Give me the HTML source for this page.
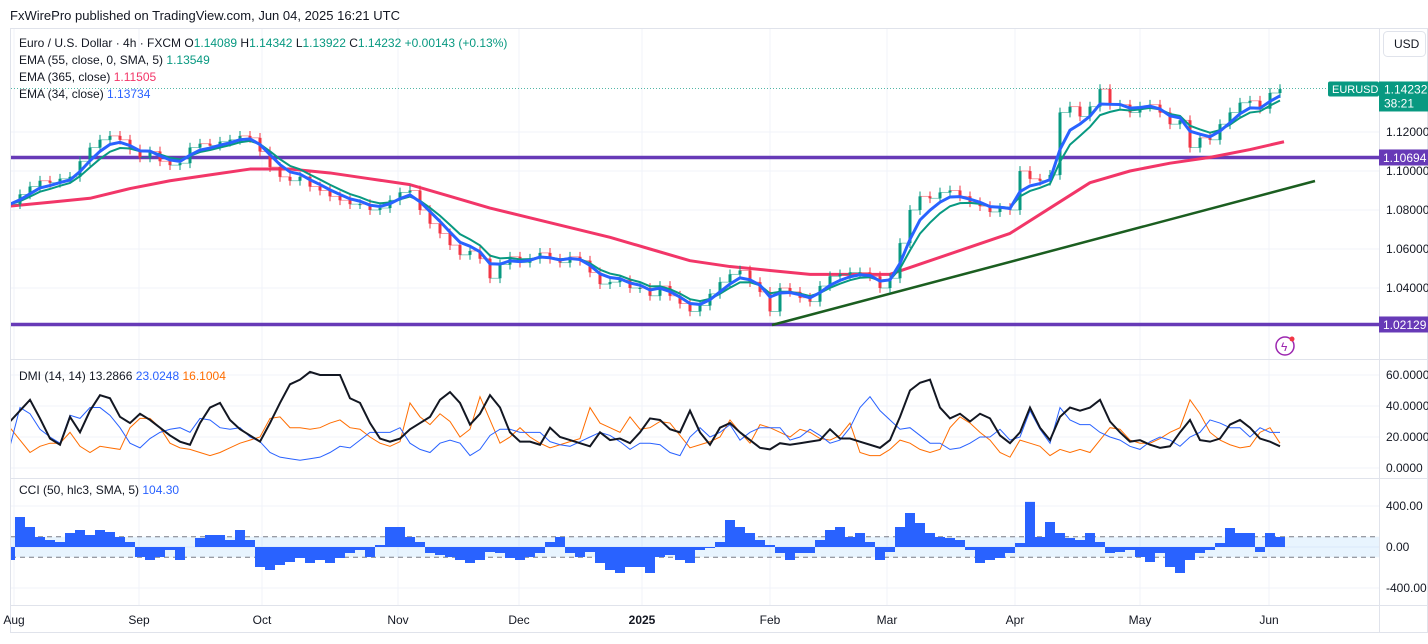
<!DOCTYPE html>
<html><head><meta charset="utf-8">
<style>
html,body{margin:0;padding:0;background:#fff;}
body{width:1428px;height:639px;overflow:hidden;font-family:"Liberation Sans",sans-serif;}
svg text{font-family:"Liberation Sans",sans-serif;}
</style></head>
<body>
<svg id="chart" width="1428" height="639" viewBox="0 0 1428 639" xmlns="http://www.w3.org/2000/svg">
<defs><clipPath id="plotclip"><rect x="11" y="29" width="1368" height="576"/></clipPath></defs>
<text x="10" y="20" font-size="13" fill="#131722">FxWirePro published on TradingView.com, Jun 04, 2025 16:21 UTC</text>
<rect x="10.5" y="28.5" width="1417" height="604" fill="none" stroke="#e0e3eb"/>
<g id="grid"></g>
<g id="main" clip-path="url(#plotclip)"></g>
<g id="dmi" clip-path="url(#plotclip)"></g>
<g id="cci" clip-path="url(#plotclip)"></g>
<g id="axes"></g>
<g font-size="12">
<text x="19" y="47" fill="#131722">Euro / U.S. Dollar · 4h · FXCM  O<tspan fill="#089981">1.14089</tspan>  H<tspan fill="#089981">1.14342</tspan>  L<tspan fill="#089981">1.13922</tspan>  C<tspan fill="#089981">1.14232</tspan>  <tspan fill="#089981">+0.00143 (+0.13%)</tspan></text>
<text x="19" y="64" fill="#131722">EMA (55, close, 0, SMA, 5)  <tspan fill="#089981">1.13549</tspan></text>
<text x="19" y="81" fill="#131722">EMA (365, close)  <tspan fill="#f23668">1.11505</tspan></text>
<text x="19" y="98" fill="#131722">EMA (34, close)  <tspan fill="#2962ff">1.13734</tspan></text>
<text x="19" y="380" fill="#131722">DMI (14, 14)  <tspan fill="#131722">13.2866</tspan>  <tspan fill="#2962ff">23.0248</tspan>  <tspan fill="#ff6d00">16.1004</tspan></text>
<text x="19" y="494" fill="#131722">CCI (50, hlc3, SMA, 5)  <tspan fill="#2962ff">104.30</tspan></text>
</g>
<rect x="1383.5" y="31.5" width="42" height="25" rx="4" fill="#fff" stroke="#e0e3eb"/>
<text x="1394" y="48" font-size="12" fill="#131722">USD</text>
<g><circle cx="1285" cy="346" r="9" fill="none" stroke="#9c27b0" stroke-width="1.5"/><text x="1281" y="351" font-size="12" fill="#9c27b0">ϟ</text><circle cx="1292" cy="339" r="2.5" fill="#f23645"/></g>
</svg>
<script>
const closes=[1.083,1.088,1.092,1.095,1.094,1.096,1.097,1.105,1.112,1.116,1.118,1.116,1.111,1.107,1.110,1.105,1.103,1.104,1.112,1.114,1.113,1.115,1.116,1.118,1.117,1.110,1.102,1.097,1.095,1.097,1.092,1.090,1.087,1.085,1.083,1.083,1.080,1.081,1.085,1.089,1.090,1.080,1.073,1.068,1.062,1.057,1.059,1.055,1.045,1.052,1.056,1.053,1.055,1.058,1.055,1.053,1.056,1.054,1.048,1.042,1.043,1.044,1.040,1.040,1.036,1.041,1.036,1.032,1.028,1.031,1.037,1.043,1.047,1.049,1.043,1.038,1.028,1.040,1.038,1.035,1.033,1.041,1.046,1.047,1.048,1.048,1.046,1.040,1.045,1.063,1.080,1.087,1.086,1.089,1.090,1.087,1.084,1.082,1.079,1.081,1.080,1.100,1.096,1.095,1.098,1.130,1.133,1.128,1.133,1.142,1.134,1.134,1.130,1.133,1.134,1.130,1.124,1.126,1.112,1.117,1.116,1.124,1.130,1.135,1.136,1.132,1.140,1.142];
const ema365=[1.082,1.084,1.086,1.091,1.095,1.098,1.101,1.101,1.099,1.096,1.093,1.087,1.081,1.076,1.071,1.066,1.060,1.054,1.051,1.049,1.047,1.047,1.047,1.054,1.061,1.068,1.081,1.094,1.100,1.104,1.107,1.111,1.115];
const adx=[30,37,44,32,19,15,33,23,37,47,45,33,29,35,31,26,21,17,15,29,39,42,31,25,21,17,29,42,54,57,62,60,60,60,45,42,29,19,17,19,25,29,33,44,49,42,28,35,47,39,23,17,17,15,26,20,18,16,14,23,18,19,16,23,32,31,25,23,37,23,15,26,29,23,18,13,12,16,15,16,17,18,25,19,19,17,15,13,18,33,50,55,57,39,32,35,30,35,32,21,16,23,39,26,18,33,39,37,39,44,30,23,17,18,15,13,14,23,31,18,17,19,28,31,26,19,17,14];
const plusDI=[14,39,35,25,20,16,34,32,39,39,34,26,16,13,19,23,25,26,23,32,31,26,25,26,20,17,10,7,6,5,6,7,10,14,13,18,23,23,23,26,16,12,10,16,18,16,8,12,21,25,25,23,23,23,17,15,14,17,20,23,21,17,12,16,16,15,10,8,20,26,20,23,28,18,23,26,26,26,18,20,25,21,16,18,26,39,46,37,31,25,26,21,16,16,12,13,16,20,20,25,18,20,37,25,16,39,31,28,28,23,20,18,14,12,17,20,18,14,20,23,31,29,26,26,20,26,23,23];
const minusDI=[26,18,10,14,16,16,23,14,10,14,13,12,26,32,32,26,16,13,12,10,8,10,13,16,18,20,32,33,26,26,25,26,29,31,26,25,20,16,14,17,42,33,28,35,30,20,25,46,31,16,20,26,20,16,13,15,17,19,39,29,26,23,33,25,26,30,29,21,13,15,17,20,31,23,16,28,26,23,20,25,23,19,18,21,29,10,8,8,12,18,16,12,10,12,26,33,29,23,18,10,7,18,16,14,8,12,10,12,10,18,26,25,18,16,16,19,23,26,44,35,23,18,15,13,14,23,26,16];
const cciVals=[-127,293,195,98,68,49,137,166,117,166,146,98,49,-98,-127,-98,-29,-127,0,88,117,117,68,166,68,-195,-224,-176,-146,-107,-156,-127,-156,-107,-59,-29,-98,20,195,195,98,49,-59,-78,-98,-127,-156,-127,-49,-59,-107,-127,-98,-59,49,98,-59,-98,-49,-156,-224,-254,-195,-195,-254,-98,-78,-127,-156,-29,-10,49,263,195,137,68,20,-59,-127,-59,-59,68,166,195,98,137,49,-127,-49,195,332,234,137,98,88,68,-29,-156,-127,-107,-59,39,440,98,244,137,88,68,137,49,-59,-49,-29,-98,-146,-59,-195,-254,-127,-59,-29,39,185,137,137,-49,137,98];
const priceTicks=["1.12000","1.10000","1.08000","1.06000","1.04000"];
const dmiTicks=["60.0000","40.0000","20.0000","0.0000"];
const cciTicks=["400.00","0.00","-400.00"];
const months=["Aug","Sep","Oct","Nov","Dec","2025","Feb","Mar","Apr","May","Jun"];
const levels=[1.10694,1.02129];
const lastPrice=1.14232;

const NS="http://www.w3.org/2000/svg";
const X0=10, STEP=10, RIGHT=1379;
const xi=i=>X0+i*STEP;
const xr=i=>X0+i*40;
const py=p=>132+(1.12-p)/0.02*39;
const dy=v=>468-v*1.55;
const cy=v=>547-v*41/400;
const monthX=[14,139,262,398,519,642,770,887,1015,1140,1269];
function mk(tag,attrs,parent){const e=document.createElementNS(NS,tag);for(const k in attrs)e.setAttribute(k,attrs[k]);parent.appendChild(e);return e;}
const grid=document.getElementById('grid'),main=document.getElementById('main'),dmi=document.getElementById('dmi'),cci=document.getElementById('cci'),axes=document.getElementById('axes');

months.forEach((m,i)=>{const l=mk('line',{x1:monthX[i],x2:monthX[i],y1:29,y2:605,stroke:'#f0f3fa'},grid);

});
priceTicks.forEach(t=>{const l=mk('line',{x1:11,x2:RIGHT,y1:py(+t),y2:py(+t),stroke:'#f0f3fa'},grid);

});
dmiTicks.forEach(t=>{const l=mk('line',{x1:11,x2:RIGHT,y1:dy(+t),y2:dy(+t),stroke:'#f0f3fa'},grid);

});
cciTicks.forEach(t=>{const l=mk('line',{x1:11,x2:RIGHT,y1:cy(+t),y2:cy(+t),stroke:'#f0f3fa'},grid);

});
[359,478,605].forEach(y=>{const l=mk('line',{x1:11,x2:1428,y1:y+0.5,y2:y+0.5,stroke:'#e0e3eb'},grid);

});
const va=mk('line',{x1:RIGHT+0.5,x2:RIGHT+0.5,y1:29,y2:632,stroke:'#e0e3eb'},grid);



levels.forEach(lv=>{const l=mk('line',{x1:11,x2:RIGHT,y1:py(lv),y2:py(lv),stroke:'#673ab7','stroke-width':3.5},main);


const r=mk('rect',{x:RIGHT,y:py(lv)-8,width:49,height:16,fill:'#673ab7'},axes);


const t=mk('text',{x:RIGHT+4,y:py(lv)+4.5,'font-size':12,fill:'#fff'},axes);t.textContent=lv.toFixed(5);

});

const tl=mk('line',{x1:772,y1:325,x2:1315,y2:181,stroke:'#1b5e20','stroke-width':2.5},main);



const rp=mk('polyline',{points:ema365.map((v,i)=>Math.min(xr(i),1284)+','+py(v)).join(' '),fill:'none',stroke:'#f23668','stroke-width':3,'stroke-linejoin':'round'},main);



closes.forEach((c,i)=>{const o=i?closes[i-1]:c;const up=c>=o;const col=up?'#089981':'#f23645';
const hi=Math.max(o,c)+0.0025,lo=Math.min(o,c)-0.0025;
const w=mk('line',{x1:xi(i),x2:xi(i),y1:py(hi),y2:py(lo),stroke:col,'stroke-width':1},main);


const b=mk('rect',{x:xi(i)-1.5,y:py(Math.max(o,c)),width:3,height:Math.max(1,Math.abs(py(o)-py(c))),fill:col},main);


if(i>0){const s=mk('line',{x1:xi(i-1),y1:py(o),x2:xi(i),y2:py(o),stroke:col,'stroke-width':0.8,opacity:0.6},main);

}});

function ema(arr,a){const out=[];arr.forEach((v,i)=>out.push(i?out[i-1]+a*(v-out[i-1]):v));return out;}
const e55=ema(closes,0.31),e34=ema(closes,0.45);
const g=mk('polyline',{points:e55.map((v,i)=>xi(i)+','+py(v)).join(' '),fill:'none',stroke:'#089981','stroke-width':2},main);


const b=mk('polyline',{points:e34.map((v,i)=>xi(i)+','+py(v)).join(' '),fill:'none',stroke:'#2962ff','stroke-width':3},main);



const lp=mk('line',{x1:11,x2:RIGHT,y1:py(lastPrice),y2:py(lastPrice),stroke:'#089981','stroke-dasharray':'1 2',opacity:0.7},main);


const sb=mk('rect',{x:1328,y:py(lastPrice)-7,width:51,height:15,rx:2,fill:'#089981'},axes);


const st=mk('text',{x:1332,y:py(lastPrice)+4.5,'font-size':11,fill:'#fff'},axes);st.textContent='EURUSD';


const pb=mk('rect',{x:RIGHT,y:py(lastPrice)-7,width:49,height:30,fill:'#089981'},axes);


const pt=mk('text',{x:RIGHT+5,y:py(lastPrice)+5,'font-size':12,fill:'#fff'},axes);pt.textContent=lastPrice.toFixed(5);


const ct=mk('text',{x:RIGHT+5,y:py(lastPrice)+19,'font-size':12,fill:'#fff'},axes);ct.textContent='38:21';



priceTicks.forEach(t=>{const e=mk('text',{x:RIGHT+7,y:py(+t)+4,'font-size':12,fill:'#131722'},axes);e.textContent=t;

});

[[minusDI,'#ff6d00',1,'minus-di-line'],[plusDI,'#2962ff',1,'plus-di-line'],[adx,'#131722',2,'adx-line']].forEach(([arr,col,w,n])=>{
const p=mk('polyline',{points:arr.map((v,i)=>xi(i)+','+dy(v)).join(' '),fill:'none',stroke:col,'stroke-width':w},dmi);

});
dmiTicks.forEach(t=>{const e=mk('text',{x:RIGHT+7,y:dy(+t)+4,'font-size':12,fill:'#131722'},axes);e.textContent=t;

});

const band=mk('rect',{x:11,y:cy(100),width:RIGHT-11,height:cy(-100)-cy(100),fill:'#2196f3','fill-opacity':0.1},cci);


[100,-100].forEach(v=>{const l=mk('line',{x1:11,x2:RIGHT,y1:cy(v),y2:cy(v),stroke:'#787b86','stroke-dasharray':'5 4'},cci);

});
let d='M'+(xi(0)-5)+','+cy(0);
cciVals.forEach((v,i)=>{d+=' L'+(xi(i)-5)+','+cy(v)+' L'+(xi(i)+5)+','+cy(v);});
d+=' L'+(xi(cciVals.length-1)+5)+','+cy(0)+' Z';
const ca=mk('path',{d:d,fill:'#2962ff'},cci);


cciTicks.forEach(t=>{const e=mk('text',{x:RIGHT+7,y:cy(+t)+4,'font-size':12,fill:'#131722'},axes);e.textContent=t;

});

months.forEach((m,i)=>{const e=mk('text',{x:monthX[i],y:624,'font-size':12,fill:'#131722','text-anchor':'middle','font-weight':m==='2025'?'bold':'normal'},axes);e.textContent=m;

});
</script>
</body></html>
